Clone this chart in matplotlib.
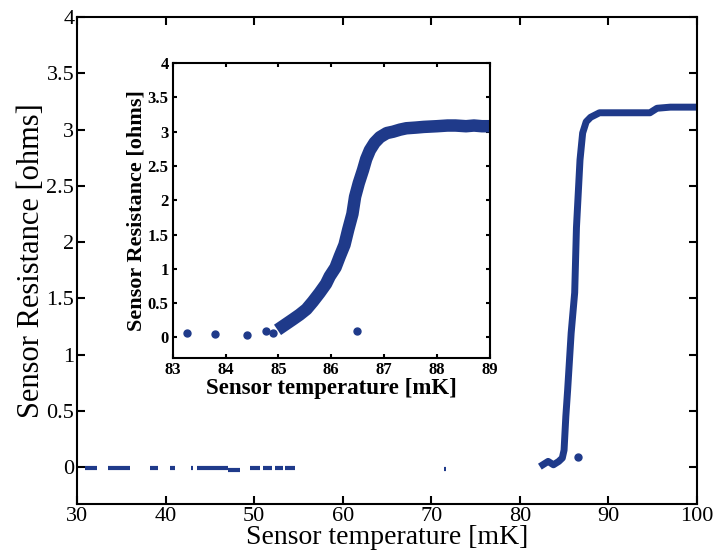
import matplotlib
matplotlib.use("Agg")
import matplotlib.pyplot as plt
import numpy as np

plt.rcParams["font.family"] = ["Liberation Serif", "DejaVu Serif"]

BLUE = "#1f3a8a"

# ---- main panel: flat low-temperature pieces (x start, x end, y) ----
low_x0 = [30.9, 33.5, 38.2, 40.5, 42.9, 43.5, 47.0, 49.5, 51.0, 52.3, 53.5, 71.4]
low_x1 = [32.3, 36.0, 39.1, 41.1, 43.1, 47.0, 48.4, 50.7, 52.0, 53.2, 54.6, 71.7]
low_y = [-0.01, -0.01, -0.01, -0.01, -0.01, -0.01, -0.03, -0.01, -0.01, -0.01, -0.01, -0.02]

# ---- main panel: transition curve ----
main_x = [82.6, 83.2, 83.8, 84.4, 84.8, 85.0, 85.2, 85.4, 85.8, 86.2, 86.4, 86.8,
          87.1, 87.5, 88.0, 89.0, 92.0, 94.7, 95.5, 97.0, 100.0]
main_y = [0.02, 0.05, 0.02, 0.05, 0.08, 0.15, 0.45, 0.68, 1.19, 1.55, 2.13, 2.73,
          2.97, 3.07, 3.11, 3.15, 3.15, 3.15, 3.19, 3.20, 3.20]
main_dot_x = [86.6]
main_dot_y = [0.09]

# ---- inset: zoom on the transition ----
ins_x = [83.26, 83.8, 84.4, 84.77, 84.9, 86.48,
         85.08, 85.27, 85.4, 85.53, 85.65, 85.78, 85.9, 85.97, 86.08, 86.16, 86.25,
         86.32, 86.4, 86.45, 86.52, 86.6, 86.66, 86.73, 86.82, 86.92, 87.05, 87.17,
         87.3, 87.42, 87.6, 87.75, 88.0, 88.2, 88.35, 88.55, 88.7, 88.85, 89.0]
ins_y = [0.06, 0.05, 0.04, 0.09, 0.07, 0.09,
         0.16, 0.26, 0.33, 0.41, 0.52, 0.65, 0.78, 0.89, 1.02, 1.18, 1.35,
         1.57, 1.8, 2.05, 2.25, 2.44, 2.6, 2.73, 2.84, 2.92, 2.98, 3.0,
         3.03, 3.05, 3.06, 3.07, 3.08, 3.09, 3.09, 3.08, 3.09, 3.08, 3.08]

ytick_text = ["0", "0.5", "1", "1.5", "2", "2.5", "3", "3.5", "4"]


def style(ax, size, width, length, weight="normal", pad=3):
    ax.tick_params(direction="in", top=True, right=True, labelsize=size,
                   width=width, length=length, pad=pad)
    for lab in ax.get_xticklabels() + ax.get_yticklabels():
        lab.set_fontweight(weight)
    for s in ax.spines.values():
        s.set_linewidth(width)


fig = plt.figure(figsize=(7.14, 5.54), dpi=100)
ax = fig.add_axes([0.108, 0.090, 0.868, 0.879])
for x0, x1, y in zip(low_x0, low_x1, low_y):
    ax.plot([x0, x1], [y, y], color=BLUE, lw=3, solid_capstyle="butt")
ax.plot(main_x, main_y, color=BLUE, lw=5, solid_joinstyle="round")
ax.plot(main_dot_x, main_dot_y, "o", color=BLUE, ms=5)
ax.set_xlim(30, 100)
ax.set_ylim(-0.33, 4)
ax.set_xticks(np.arange(30, 101, 10))
ax.set_yticks(np.arange(0, 4.01, 0.5))
ax.set_yticklabels(ytick_text)
ax.set_xlabel("Sensor temperature [mK]", fontsize=20, labelpad=-1)
ax.set_ylabel("Sensor Resistance [ohms]", fontsize=22, labelpad=0)
style(ax, 16, 1.5, 6, pad=2)

ins = fig.add_axes([0.242, 0.354, 0.444, 0.532])
ins.plot(ins_x[6:], ins_y[6:], color=BLUE, lw=9, solid_joinstyle="round")
ins.plot(ins_x, ins_y, "o", color=BLUE, ms=5)
ins.set_xlim(83, 89)
ins.set_ylim(-0.3, 4)
ins.set_xticks(np.arange(83, 89.1, 1))
ins.set_yticks(np.arange(0, 4.01, 0.5))
ins.set_yticklabels(ytick_text)
ins.set_xlabel("Sensor temperature [mK]", fontsize=16.5, fontweight="bold", labelpad=0)
ins.set_ylabel("Sensor Resistance [ohms]", fontsize=16, fontweight="bold", labelpad=1)
style(ins, 12, 1.5, 3, "bold")

fig.savefig("out.png", dpi=100)
